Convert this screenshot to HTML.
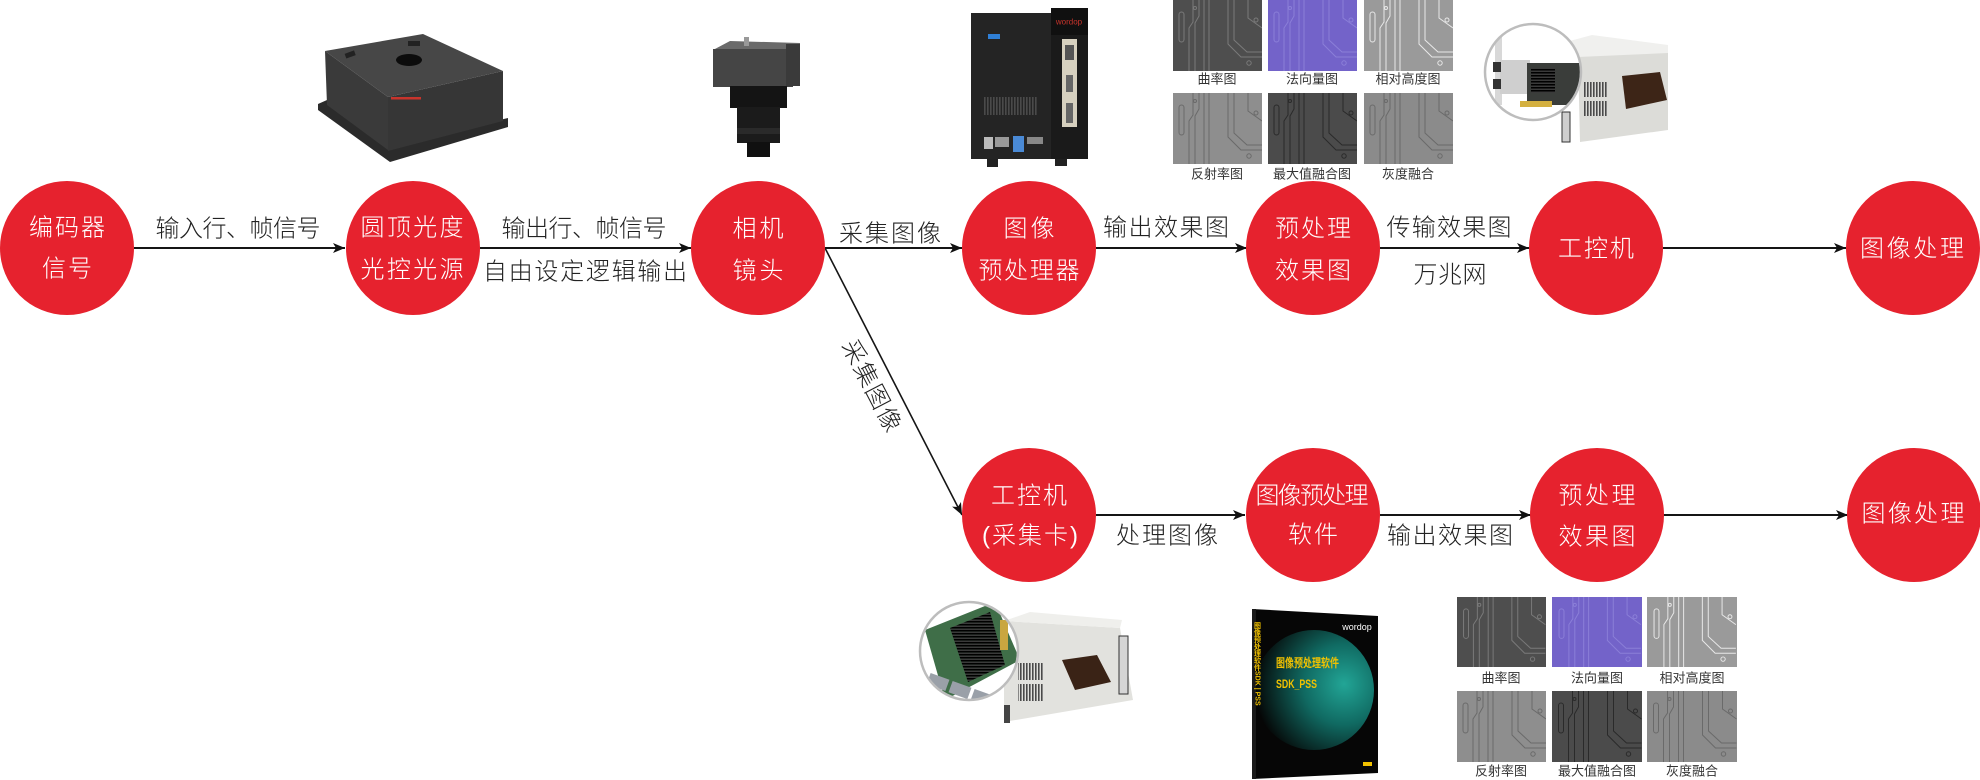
<!DOCTYPE html>
<html><head><meta charset="utf-8">
<style>
html,body{margin:0;padding:0;background:#fff;}
svg{display:block;}
.t{font-family:"Liberation Sans","Noto Sans CJK SC",sans-serif;font-size:24px;font-weight:300;dominant-baseline:central;text-anchor:middle;}
.w{fill:#fff;}
.k{fill:#222;}
.s{font-family:"Liberation Sans","Noto Sans CJK SC",sans-serif;font-size:13px;fill:#333;dominant-baseline:central;text-anchor:middle;}
</style></head>
<body>
<svg width="1980" height="780" viewBox="0 0 1980 780" xmlns="http://www.w3.org/2000/svg">
<defs>
<marker id="ar" markerUnits="userSpaceOnUse" markerWidth="13" markerHeight="11" refX="12" refY="5" orient="auto">
<path d="M0,0 L12,5 L0,10 L3,5 z" fill="#111"/>
</marker>
<symbol id="tr" viewBox="0 0 89 71">
<g fill="none" stroke="currentColor" stroke-width="1">
<rect x="6" y="12" width="5" height="30" rx="2.5"/>
<path d="M20,0 V22 L16,28 V71 M26,0 V16 L22,23 V71 M31,0 V30 V71 M36,0 V71"/>
<path d="M55,0 V44 L68,57 H89 M61,0 V40 L74,52 H89 M75,0 V18 L89,28"/>
<circle cx="76" cy="63" r="2.2"/><circle cx="83" cy="20" r="2"/><circle cx="22" cy="8" r="1.5"/>
</g>
</symbol>
<pattern id="vent" width="3" height="10" patternUnits="userSpaceOnUse"><rect width="1.6" height="10" fill="#4a4a4a"/></pattern>
<pattern id="fin" width="6" height="3" patternUnits="userSpaceOnUse"><rect width="6" height="1.6" fill="#000"/><rect y="1.6" width="6" height="1.4" fill="#3a3a3a"/></pattern>
<radialGradient id="teal" cx="0.75" cy="0.45" r="0.75">
<stop offset="0" stop-color="#22a596"/><stop offset="0.45" stop-color="#106a62"/><stop offset="1" stop-color="#050505"/>
</radialGradient>
<clipPath id="c1"><circle cx="1533" cy="72" r="47"/></clipPath>
<clipPath id="c2"><circle cx="969" cy="651" r="48"/></clipPath>
<clipPath id="bx"><polygon points="1252,609 1378,616 1378,773 1252,779"/></clipPath>
</defs>

<rect width="1980" height="780" fill="#fff"/>

<!-- Light source box -->
<polygon points="318,104 327,100 390,146 508,118 508,127 390,162 318,110" fill="#2b2b2b"/>
<polygon points="325,51 388,97 388,150 327,105" fill="#3a3a3a"/>
<polygon points="388,97 503,71 503,121 388,151" fill="#363636"/>
<polygon points="325,51 423,34 503,71 388,97" fill="#474747"/>
<ellipse cx="409" cy="60" rx="13" ry="6" fill="#0c0c0c"/>
<rect x="345" y="52" width="10" height="5" fill="#222" transform="rotate(-20 350 54)"/>
<rect x="408" y="41" width="12" height="5" fill="#222"/>
<rect x="391" y="97" width="30" height="2.5" fill="#c8342c"/>

<!-- Camera -->
<polygon points="713,50 730,41 800,43 800,50" fill="#6a6a6a"/>
<rect x="713" y="49" width="80" height="38" fill="#454545"/>
<rect x="786" y="44" width="14" height="42" fill="#3a3a3a"/>
<rect x="744" y="37" width="5" height="9" fill="#999"/>
<rect x="730" y="86" width="57" height="22" fill="#141414"/>
<rect x="737" y="107" width="43" height="36" fill="#1b1b1b"/>
<rect x="737" y="128" width="43" height="6" fill="#2a2a2a"/>
<rect x="747" y="142" width="23" height="15" fill="#101010"/>

<!-- Preprocessor box -->
<rect x="971" y="13" width="80" height="146" fill="#242424"/>
<rect x="1051" y="8" width="37" height="151" fill="#1a1a1a"/>
<rect x="1051" y="8" width="37" height="27" fill="#101010"/>
<text x="1069" y="22" font-family="Liberation Sans,sans-serif" font-size="8" fill="#c8342c" text-anchor="middle" dominant-baseline="central">wordop</text>
<rect x="1062" y="39" width="15" height="88" fill="#d6d0bf"/>
<rect x="1065" y="45" width="9" height="15" fill="#555"/>
<rect x="1066" y="75" width="7" height="17" fill="#666"/>
<rect x="1066" y="103" width="7" height="20" fill="#666"/>
<rect x="988" y="34" width="12" height="5" fill="#2f7fd6"/>
<rect x="983" y="97" width="55" height="18" fill="url(#vent)"/>
<rect x="984" y="137" width="9" height="12" fill="#bbb"/>
<rect x="995" y="137" width="14" height="10" fill="#999"/>
<rect x="1013" y="136" width="11" height="16" fill="#4a8ad6"/>
<rect x="1027" y="137" width="16" height="7" fill="#888"/>
<rect x="987" y="159" width="11" height="8" fill="#222"/>
<rect x="1055" y="159" width="12" height="7" fill="#222"/>

<!-- Top image grid -->
<g>
<rect x="1173" y="0" width="89" height="71" fill="#4e4e4e"/><use href="#tr" x="1173" y="0" width="89" height="71" style="color:#7a7a7a"/>
<rect x="1268" y="0" width="89" height="71" fill="#7363c9"/><use href="#tr" x="1268" y="0" width="89" height="71" style="color:#8b7fd8"/>
<rect x="1364" y="0" width="89" height="71" fill="#9a9a9a"/><use href="#tr" x="1364" y="0" width="89" height="71" style="color:#e8e8e8"/>
<rect x="1173" y="93" width="89" height="71" fill="#8e8e8e"/><use href="#tr" x="1173" y="93" width="89" height="71" style="color:#6a6a6a"/>
<rect x="1268" y="93" width="89" height="71" fill="#4b4b4b"/><use href="#tr" x="1268" y="93" width="89" height="71" style="color:#2a2a2a"/>
<rect x="1364" y="93" width="89" height="71" fill="#8b8b8b"/><use href="#tr" x="1364" y="93" width="89" height="71" style="color:#6a6a6a"/>
<text class="s" x="1217" y="79">曲率图</text>
<text class="s" x="1312" y="79">法向量图</text>
<text class="s" x="1408" y="79">相对高度图</text>
<text class="s" x="1217" y="174">反射率图</text>
<text class="s" x="1312" y="174">最大值融合图</text>
<text class="s" x="1408" y="174">灰度融合</text>
</g>

<!-- Top-right PC -->
<polygon points="1566,42 1592,35 1668,45 1668,55 1580,58" fill="#f0f0ee"/>
<polygon points="1578,57 1668,53 1668,130 1580,142" fill="#dcdcd8"/>
<polygon points="1622,76 1660,72 1667,100 1626,109" fill="#3d2517"/>
<rect x="1583" y="82" width="24" height="15" fill="url(#vent)"/>
<rect x="1583" y="101" width="24" height="15" fill="url(#vent)"/>
<rect x="1562" y="112" width="8" height="30" fill="#cfcfcf" stroke="#333" stroke-width="1"/>
<circle cx="1533" cy="72" r="48" fill="#fff"/>
<g clip-path="url(#c1)">
<rect x="1495" y="30" width="7" height="75" fill="#d8d8d8"/>
<rect x="1500" y="60" width="30" height="34" fill="#cfcfcf"/>
<rect x="1493" y="62" width="8" height="10" fill="#333"/>
<rect x="1493" y="79" width="8" height="10" fill="#333"/>
<rect x="1527" y="63" width="53" height="42" fill="#3a3d3a"/>
<rect x="1531" y="68" width="24" height="25" fill="url(#fin)"/>
<rect x="1520" y="101" width="32" height="6" fill="#d4b040"/>
</g>
<circle cx="1533" cy="72" r="48" fill="none" stroke="#bdbdbd" stroke-width="2.5"/>

<!-- Bottom PC -->
<polygon points="1004,621 1120,628 1133,700 1004,722" fill="#e2e2de"/>
<polygon points="1004,621 1030,612 1122,620 1120,628" fill="#efefec"/>
<polygon points="1062,660 1097,655 1111,682 1075,690" fill="#3a2316"/>
<rect x="1018" y="663" width="25" height="17" fill="url(#vent)"/>
<rect x="1018" y="684" width="25" height="17" fill="url(#vent)"/>
<rect x="1119" y="636" width="9" height="58" fill="#d5d5d5" stroke="#333" stroke-width="1"/>
<rect x="1004" y="705" width="6" height="18" fill="#444"/>
<circle cx="969" cy="651" r="49" fill="#fff"/>
<g clip-path="url(#c2)">
<polygon points="925,630 995,602 1020,660 945,700" fill="#3f6e48"/>
<polygon points="950,628 990,612 1005,665 968,682" fill="url(#fin)"/>
<rect x="928" y="676" width="20" height="12" fill="#9aa0a8" transform="rotate(20 938 682)"/>
<rect x="950" y="684" width="20" height="12" fill="#9aa0a8" transform="rotate(20 960 690)"/>
<rect x="972" y="692" width="20" height="12" fill="#9aa0a8" transform="rotate(20 982 698)"/>
<rect x="1000" y="620" width="8" height="30" fill="#c9a640"/>
</g>
<circle cx="969" cy="651" r="49" fill="none" stroke="#bdbdbd" stroke-width="2.5"/>

<!-- Software box -->
<polygon points="1252,609 1378,616 1378,773 1252,779" fill="#060606"/>
<g clip-path="url(#bx)">
<circle cx="1314" cy="690" r="60" fill="url(#teal)"/>
</g>
<rect x="1252" y="609" width="4" height="170" fill="#1a1a1a"/>
<text x="1257" y="622" font-family="Liberation Sans,'Noto Sans CJK SC',sans-serif" font-size="7" font-weight="bold" fill="#f2c200" writing-mode="tb">图像预处理软件SDK | PSS</text>
<text x="1357" y="627" font-family="Liberation Sans,sans-serif" font-size="9" fill="#fff" text-anchor="middle" dominant-baseline="central">wordop</text>
<text x="1276" y="663" font-family="Liberation Sans,'Noto Sans CJK SC',sans-serif" font-size="12" font-weight="bold" fill="#f2c200" dominant-baseline="central" textLength="63" lengthAdjust="spacingAndGlyphs">图像预处理软件</text>
<text x="1276" y="684" font-family="Liberation Sans,sans-serif" font-size="12" font-weight="bold" fill="#f2c200" dominant-baseline="central" textLength="41" lengthAdjust="spacingAndGlyphs">SDK_PSS</text>
<rect x="1363" y="762" width="9" height="4" fill="#f2c200"/>

<!-- Bottom image grid -->
<g>
<rect x="1457" y="597" width="89" height="70" fill="#4e4e4e"/><use href="#tr" x="1457" y="597" width="89" height="70" style="color:#7a7a7a"/>
<rect x="1552" y="597" width="90" height="70" fill="#7363c9"/><use href="#tr" x="1552" y="597" width="90" height="70" style="color:#8b7fd8"/>
<rect x="1647" y="597" width="90" height="70" fill="#9a9a9a"/><use href="#tr" x="1647" y="597" width="90" height="70" style="color:#e8e8e8"/>
<rect x="1457" y="691" width="89" height="71" fill="#8e8e8e"/><use href="#tr" x="1457" y="691" width="89" height="71" style="color:#6a6a6a"/>
<rect x="1552" y="691" width="90" height="71" fill="#4b4b4b"/><use href="#tr" x="1552" y="691" width="90" height="71" style="color:#2a2a2a"/>
<rect x="1647" y="691" width="90" height="71" fill="#8b8b8b"/><use href="#tr" x="1647" y="691" width="90" height="71" style="color:#6a6a6a"/>
<text class="s" x="1501" y="678">曲率图</text>
<text class="s" x="1597" y="678">法向量图</text>
<text class="s" x="1692" y="678">相对高度图</text>
<text class="s" x="1501" y="771">反射率图</text>
<text class="s" x="1597" y="771">最大值融合图</text>
<text class="s" x="1692" y="771">灰度融合</text>
</g>

<!-- Connectors -->
<g stroke="#151515" stroke-width="2" fill="none" marker-end="url(#ar)">
<line x1="134" y1="248" x2="345" y2="248"/>
<line x1="480" y1="248" x2="691" y2="248"/>
<line x1="825" y1="248" x2="962" y2="248"/>
<line x1="1096" y1="248" x2="1247" y2="248"/>
<line x1="1380" y1="248" x2="1529" y2="248"/>
<line x1="1663" y1="248" x2="1846" y2="248"/>
<line x1="825" y1="248" x2="962" y2="515" stroke-width="1.6"/>
<line x1="1096" y1="515" x2="1245" y2="515"/>
<line x1="1380" y1="515" x2="1531" y2="515"/>
<line x1="1663" y1="515" x2="1848" y2="515"/>
</g>

<!-- Circles -->
<g fill="#e6222e">
<circle cx="67" cy="248" r="67"/>
<circle cx="413" cy="248" r="67"/>
<circle cx="758" cy="248" r="67"/>
<circle cx="1029" cy="248" r="67"/>
<circle cx="1313" cy="248" r="67"/>
<circle cx="1596" cy="248" r="67"/>
<circle cx="1913" cy="248" r="67"/>
<circle cx="1029" cy="515" r="67"/>
<circle cx="1313" cy="515" r="67"/>
<circle cx="1597" cy="515" r="67"/>
<circle cx="1914" cy="515" r="67"/>
</g>

<!-- Circle text -->
<text class="t w" x="67" y="228" textLength="76" lengthAdjust="spacing">编码器</text>
<text class="t w" x="67" y="269" textLength="50" lengthAdjust="spacing">信号</text>
<text class="t w" x="412" y="228" textLength="103" lengthAdjust="spacing">圆顶光度</text>
<text class="t w" x="412" y="270" textLength="103" lengthAdjust="spacing">光控光源</text>
<text class="t w" x="758" y="229" textLength="51" lengthAdjust="spacing">相机</text>
<text class="t w" x="758" y="271" textLength="51" lengthAdjust="spacing">镜头</text>
<text class="t w" x="1029" y="229" textLength="51" lengthAdjust="spacing">图像</text>
<text class="t w" x="1029" y="271" textLength="101" lengthAdjust="spacing">预处理器</text>
<text class="t w" x="1313" y="229" textLength="76" lengthAdjust="spacing">预处理</text>
<text class="t w" x="1313" y="271" textLength="76" lengthAdjust="spacing">效果图</text>
<text class="t w" x="1596" y="249" textLength="76" lengthAdjust="spacing">工控机</text>
<text class="t w" x="1912" y="249" textLength="104" lengthAdjust="spacing">图像处理</text>
<text class="t w" x="1029" y="496" textLength="76" lengthAdjust="spacing">工控机</text>
<text class="t w" x="1030" y="536" textLength="96" lengthAdjust="spacing">(采集卡)</text>
<text class="t w" x="1312" y="496" textLength="113" lengthAdjust="spacing">图像预处理</text>
<text class="t w" x="1313" y="535" textLength="50" lengthAdjust="spacing">软件</text>
<text class="t w" x="1597" y="496" textLength="77" lengthAdjust="spacing">预处理</text>
<text class="t w" x="1597" y="537" textLength="77" lengthAdjust="spacing">效果图</text>
<text class="t w" x="1913" y="514" textLength="103" lengthAdjust="spacing">图像处理</text>

<!-- Labels -->
<text class="t k" x="238" y="229" textLength="165" lengthAdjust="spacing">输入行、帧信号</text>
<text class="t k" x="584" y="229" textLength="165" lengthAdjust="spacing">输出行、帧信号</text>
<text class="t k" x="585" y="272" textLength="204" lengthAdjust="spacing">自由设定逻辑输出</text>
<text class="t k" x="890" y="234" textLength="102" lengthAdjust="spacing">采集图像</text>
<text class="t k" x="1166" y="228" textLength="126" lengthAdjust="spacing">输出效果图</text>
<text class="t k" x="1449" y="228" textLength="125" lengthAdjust="spacing">传输效果图</text>
<text class="t k" x="1450" y="275" textLength="73" lengthAdjust="spacing">万兆网</text>
<text class="t k" x="1167" y="536" textLength="102" lengthAdjust="spacing">处理图像</text>
<text class="t k" x="1450" y="536" textLength="126" lengthAdjust="spacing">输出效果图</text>
<text class="t k" x="871" y="386" textLength="100" lengthAdjust="spacing" transform="rotate(62.5 871 386)">采集图像</text>
</svg>
</body></html>
